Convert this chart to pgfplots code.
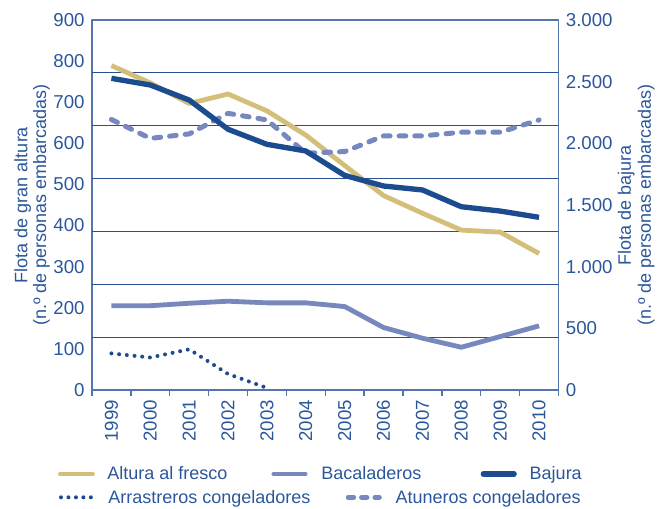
\documentclass[border=0pt]{standalone}
\usepackage{pgfplots}
\pgfplotsset{compat=1.18}
\usepackage{fontspec}
\setmainfont{Liberation Sans}
\definecolor{textblue}{RGB}{43,87,154}
\definecolor{axisblue}{RGB}{84,118,172}
\definecolor{gridblue}{RGB}{40,80,145}
\definecolor{altura}{RGB}{212,191,122}
\definecolor{bacal}{RGB}{118,136,189}
\definecolor{bajura}{RGB}{28,75,143}
\begin{document}
\begin{tikzpicture}
\pgfplotsset{
  common/.style={
    scale only axis, width=349.875pt, height=277.5pt,
    xmin=-0.5, xmax=11.5,
    axis line style={axisblue, line width=1.1pt},
    tick style={axisblue, line width=1.1pt},
    major tick length=0pt,
    tick label style={font=\fontsize{14}{14}\selectfont, text=textblue},
    /pgf/number format/assume math mode=true,
    line join=round,
  }
}
\begin{axis}[common,
  ymin=0, ymax=900,
  xtick={0,...,11},
  xticklabels={1999,2000,2001,2002,2003,2004,2005,2006,2007,2008,2009,2010},
  xtick pos=bottom, ytick pos=left,
  minor xtick={-0.5,0.5,...,11.5},
  minor tick length=4.5pt, tick align=outside,
  xticklabel style={rotate=90, anchor=east, xshift=-4pt},
  ytick={0,100,...,900},
  yticklabel style={xshift=-2pt},
  extra y ticks={128.571,257.143,385.714,514.286,642.857,771.429},
  extra y tick labels={},
  extra y tick style={grid=major, major grid style={gridblue, line width=0.9pt}},
  ylabel={Flota de gran altura\\(n.º de personas embarcadas)},
  ylabel style={align=center, font=\fontsize{13.5}{14}\selectfont, text=textblue,
    at={(axis description cs:-0.09,0.5)}, anchor=south, inner sep=0pt},
]
\addplot[altura, line width=3.6pt] coordinates {
 (0,789) (1,747) (2,697) (3,720) (4,679) (5,620) (6,546) (7,473) (8,430) (9,389) (10,384) (11,332)};
\addplot[bacal, line width=3.6pt] coordinates {
 (0,205) (1,205) (2,211) (3,216) (4,212) (5,212) (6,203) (7,152) (8,126) (9,104) (10,130) (11,156)};
\addplot[bajura, line width=3pt, line cap=round, dash pattern=on 0pt off 5.8pt] coordinates {
 (0,89) (1,79) (2,99) (3,39) (4,5)};
\addplot[bacal, line width=3.75pt, line cap=round, dash pattern=on 5pt off 6.75pt] coordinates {
 (0,658) (1,612) (2,623) (3,673) (4,657) (5,576) (6,580) (7,618) (8,618) (9,627) (10,627) (11,657)};
\end{axis}
\begin{axis}[common,
  ymin=0, ymax=3000,
  axis x line=none, axis y line*=right,
  ytick={0,500,...,3000},
  /pgf/number format/1000 sep={.},
  yticklabel style={xshift=2pt},
  ylabel={Flota de bajura\\(n.º de personas embarcadas)},
  ylabel style={align=center, font=\fontsize{13.5}{15}\selectfont, text=textblue,
    at={(axis description cs:1.1265,0.5)}, anchor=north, inner sep=0pt},
]
\addplot[bajura, line width=4pt] coordinates {
 (0,2527) (1,2473) (2,2351) (3,2114) (4,1992) (5,1938) (6,1740) (7,1654) (8,1622) (9,1486) (10,1451) (11,1400)};
\end{axis}
% legend
\begin{scope}[every node/.style={anchor=base west, inner sep=0pt, text=textblue, font=\fontsize{13.5}{14}\selectfont}]
\draw[altura, line width=3.6pt, line cap=round] (-23.7pt,-63pt) -- (0.4pt,-63pt);
\node at (11.25pt,-66.75pt) {Altura al fresco};
\draw[bacal, line width=3.6pt, line cap=round] (136.4pt,-63pt) -- (159.9pt,-63pt);
\node at (171.75pt,-66.75pt) {Bacaladeros};
\draw[bajura, line width=4pt, line cap=round] (293.5pt,-63pt) -- (316.6pt,-63pt);
\node at (328.1pt,-66.75pt) {Bajura};
\draw[bajura, line width=3pt, line cap=round, dash pattern=on 0pt off 5.6pt] (-23.25pt,-80.5pt) -- (0.2pt,-80.5pt);
\node at (12pt,-85.2pt) {Arrastreros congeladores};
\draw[bacal, line width=3.75pt, line cap=round, dash pattern=on 4pt off 6pt] (192.2pt,-80.5pt) -- (215.5pt,-80.5pt);
\node at (227.5pt,-85.2pt) {Atuneros congeladores};
\end{scope}
\pgfresetboundingbox
\path[use as bounding box] (-69pt,-88.5pt) rectangle (429.75pt,292.5pt);
\end{tikzpicture}
\end{document}
